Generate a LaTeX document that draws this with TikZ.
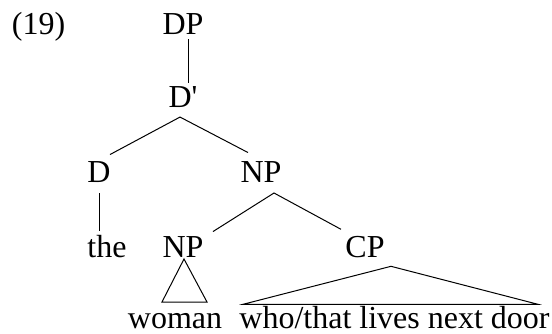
\documentclass[tikz,border=0pt]{standalone}
\usepackage{fontspec}
\newfontfamily\trm{Liberation Serif}
\begin{document}
\begin{tikzpicture}[x=1pt,y=-1pt,
  lbl/.style={inner sep=0pt,outer sep=0pt,anchor=base,font=\trm\fontsize{32}{36}\selectfont},
  edge/.style={line width=1pt}]
\useasboundingbox (0,0) rectangle (552,334);
\node[lbl,anchor=base west] (ex) at (12,35) {(19)};
\node[lbl] (dp) at (183,35) {DP};
\node[lbl] (dbar) at (183,108) {D'};
\node[lbl] (d) at (99,183) {D};
\node[lbl] (np1) at (261,183) {NP};
\node[lbl] (the) at (107,257) {the};
\node[lbl] (np2) at (183,257) {NP};
\node[lbl] (cp) at (365,257) {CP};
\node[lbl] (woman) at (175,328) {woman};
\node[lbl] (who) at (394.5,328) {who/that lives next door};
\draw[edge] ([xshift=5pt,yshift=-4pt]dp.south) -- ([xshift=5pt,yshift=4pt]dbar.north);
\draw[edge] ([xshift=11pt,yshift=7.5pt]d.north) -- ([xshift=-3pt,yshift=-9pt]dbar.south) -- ([xshift=-13pt,yshift=9.5pt]np1.north);
\draw[edge] ([yshift=-10pt]d.south) -- ([xshift=-8pt,yshift=4pt]the.north);
\draw[edge] ([xshift=30pt,yshift=4.5pt]np2.north) -- ([xshift=13pt,yshift=-10pt]np1.south) -- ([xshift=-24pt,yshift=6.5pt]cp.north);
\draw[edge] ([xshift=1pt,yshift=-2pt]np2.south) -- ++(-22,43) -- ++(45,0) -- cycle;
\draw[edge] ([xshift=26pt,yshift=-9pt]cp.south) -- ++(-148,38) -- ++(295,0) -- cycle;
\end{tikzpicture}
\end{document}
